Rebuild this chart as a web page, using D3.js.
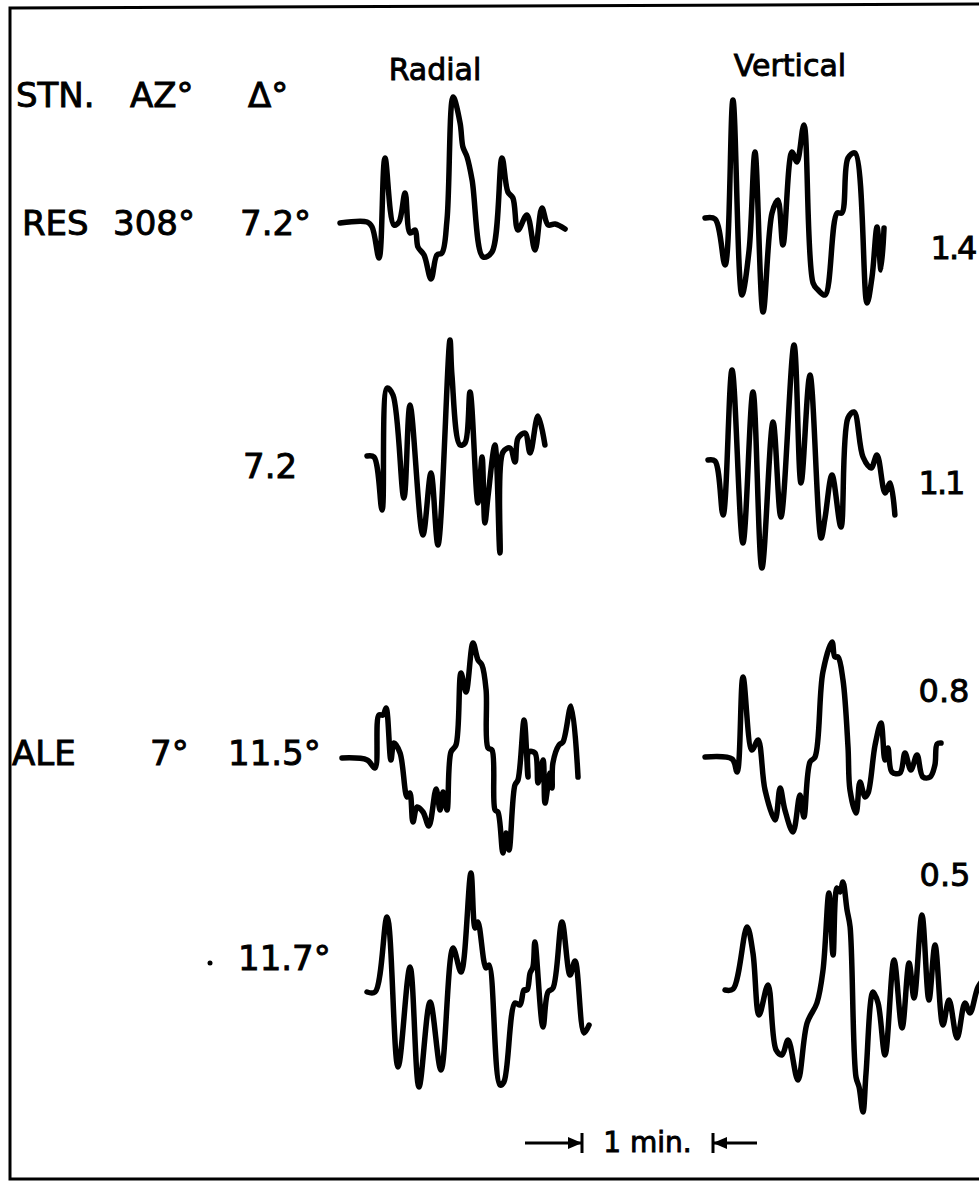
<!DOCTYPE html>
<html>
<head>
<meta charset="utf-8">
<script src="https://cdn.jsdelivr.net/npm/d3@7"></script>
<style>
  body { margin: 0; background: #fff; }
  svg text { font-family: "DejaVu Sans", sans-serif; fill: #000; stroke: #000; stroke-width: 0.9; }
</style>
</head>
<body>
<svg id="viz" width="979" height="1183"></svg>
<script>
// time in seconds from trace start, amplitude in relative units (up = positive)
var resRad1T = [0,12.4,14.7,17.9,20.6,24.7,27.0,29.8,32.1,34.4,35.7,38.5,41.7,44.4,46.7,49.0,51.8,55.0,56.3,58.2,60.5,65.5,69.6,74.2,76.9,79.2,81.5,85.6,89.3,92.5,95.3,98.5,103.1];
var resRad1A = [0,1,-4,-35,65,-2,1,30,-10,-7,-24,-32,-56,-32,-30,3,126,100,76,66,43,-34,-29,65,31,25,-7,8,-27,15,-2,-1,-6];

var resVer1T = [0,4.6,9.2,12.8,16.9,20.2,22.9,26.6,30.7,33.4,35.7,39.8,42.1,45.3,49.5,51.8,55.0,60.5,62.7,65.5,68.7,74.2,76.5,78.8,80.6,82.0];
var resVer1A = [0,-1,-47,118,-77,-32,66,-94,5,18,-27,66,56,93,-65,-72,-77,5,5,60,65,-85,-59,-9,-52,-10];

var resRad2T = [0,3.2,6.9,9.2,11.9,16.9,19.7,25.6,29.3,32.5,38.0,38.9,42.6,44.9,47.2,50.8,52.7,54.0,55.4,58.6,60.9,62.3,65.5,67.8,69.2,72.4,74.7,78.3,81.5];
var resRad2A = [0,-1,-54,68,61,-42,51,-79,-17,-89,116,81,11,13,64,-47,-1,-67,-41,11,-97,4,8,-6,18,23,3,40,11];

var resVer2T = [0,3.2,6.9,11.0,16.0,20.6,24.7,29.8,33.4,39.4,42.6,46.7,51.8,53.6,56.8,60.9,64.1,66.9,71.0,74.7,77.4,81.1,83.4,85.6];
var resVer2A = [0,-1,-55,90,-83,68,-108,38,-57,115,-23,85,-78,-58,-15,-67,42,48,3,-8,5,-33,-23,-55];

var aleRad1T = [0,11.5,15.1,16.9,18.8,20.2,22.4,23.8,26.6,29.8,31.1,32.5,34.4,37.1,39.8,43.1,44.9,46.3,48.1,49.9,52.2,54.5,56.8,60.0,62.3,64.1,66.0,66.9,68.7,70.1,71.4,73.7,75.1,76.5,79.2,80.6,83.4,85.2,85.6,88.4,89.8,92.1,93.0,95.3,96.2,96.6,99.4,101.2,104.9,108.1];
var aleRad1A = [0,-2,-10,43,43,50,-2,15,5,-39,-35,-64,-49,-54,-68,-31,-52,-34,-52,6,13,85,66,115,98,93,68,10,8,-52,-54,-95,-75,-92,-27,-22,38,-19,6,5,-25,-2,-45,-15,-30,-5,13,16,52,-19];

var aleVer1T = [0,12.4,14.7,17.4,21.5,24.3,27.5,32.1,34.4,36.6,40.3,43.5,45.3,48.1,50.4,54.0,58.2,59.5,60.9,63.2,65.5,66.4,69.2,71.0,73.3,74.7,77.9,80.6,82.4,83.8,85.6,89.3,91.6,94.3,97.1,99.8,103.1,105.3,106.3,108.1];
var aleVer1A = [0,-2,-15,80,7,17,-33,-63,-31,-53,-75,-38,-60,-5,0,85,115,100,100,77,10,-33,-56,-25,-40,-36,12,34,-3,9,-15,-16,4,-13,2,-20,-20,-8,13,14];

var aleRad2T = [0,3.7,9.2,14.2,19.7,23.8,28.9,33.9,39.4,43.1,47.6,49.5,50.8,54.5,55.9,60.9,62.7,67.8,70.1,71.9,73.3,74.7,76.0,76.9,80.6,82.9,85.2,89.3,93.0,95.3,99.4,101.7];
var aleRad2A = [0,0,75,-75,25,-95,-10,-78,44,20,119,64,70,24,27,-93,-90,-11,-13,2,2,19,25,50,-35,0,4,70,17,31,-41,-33];

var aleVer2T = [0,3.7,10.1,12.8,15.6,19.7,23.4,26.1,28.9,33.4,37.6,42.1,44.9,47.6,49.5,51.3,52.7,54.0,55.9,57.3,60.0,61.4,63.2,64.6,67.8,70.1,73.3,77.4,81.1,84.3,86.6,90.2,93.4,96.2,99.8,102.6,106.3,109.9,112.2,115.9,119.0];
var aleVer2A = [0,1,63,37,-25,5,-60,-65,-50,-90,-33,-13,20,97,35,102,98,108,80,63,-87,-97,-122,-83,-2,-13,-65,30,-38,27,-8,75,-10,45,-35,-10,-48,-13,-23,3,12];

var ampRatios = ["1.4", "1.1", "0.8", "0.5"];
var distLabels = ["7.2°", "7.2", "11.5°", "11.7°"];

var traces = [
    {t: resRad1T, a: resRad1A, x: 340, y: 223},
    {t: resVer1T, a: resVer1A, x: 705, y: 218},
    {t: resRad2T, a: resRad2A, x: 367, y: 456},
    {t: resVer2T, a: resVer2A, x: 708, y: 460},
    {t: aleRad1T, a: aleRad1A, x: 342, y: 758},
    {t: aleVer1T, a: aleVer1A, x: 705, y: 757},
    {t: aleRad2T, a: aleRad2A, x: 367, y: 992},
    {t: aleVer2T, a: aleVer2A, x: 725, y: 990}
];

var svg = d3.select("#viz");

// 1 min = 131 px on the record
var xScale = d3.scaleLinear().domain([0, 60]).range([0, 131]);
var yScale = d3.scaleLinear().domain([-100, 100]).range([100, -100]);

// frame
svg.append("path")
    .attr("d", "M10,1179 L10,8 L990,4 L990,1179 Z")
    .attr("fill", "none")
    .attr("stroke", "#000")
    .attr("stroke-width", 3);

var line = d3.line()
    .curve(d3.curveCatmullRom.alpha(0.5))
    .x(function(d) { return xScale(d[0]); })
    .y(function(d) { return yScale(d[1]); });

traces.forEach(function(tr) {
    var pts = tr.t.map(function(t, i) { return [t, tr.a[i]]; });
    svg.append("g")
        .attr("transform", "translate(" + tr.x + "," + tr.y + ")")
        .append("path")
        .datum(pts)
        .attr("d", line)
        .attr("fill", "none")
        .attr("stroke", "#000")
        .attr("stroke-width", 5.5)
        .attr("stroke-linejoin", "round")
        .attr("stroke-linecap", "round");
});

function label(txt, x, y, size, anchor) {
    return svg.append("text")
        .attr("x", x)
        .attr("y", y)
        .attr("font-size", size)
        .attr("text-anchor", anchor || "start")
        .text(txt);
}

// headers
label("Radial", 435, 80, 30, "middle");
label("Vertical", 790, 76, 30, "middle");
label("STN.", 16, 107, 34);
label("AZ°", 130, 107, 34);
label("Δ°", 248, 107, 34);

// station rows
label("RES", 22, 235, 34);
label("308°", 113, 235, 34);
label(distLabels[0], 240, 235, 34);
label(distLabels[1], 243, 478, 34);
label("ALE", 12, 765, 34);
label("7°", 150, 765, 34);
label(distLabels[2], 228, 765, 34);
label(distLabels[3], 238, 970, 34);
svg.append("circle").attr("cx", 210).attr("cy", 963).attr("r", 2.5);

// amplitude ratios
label(ampRatios[0], 953, 259, 32, "middle").attr("letter-spacing", -2);
label(ampRatios[1], 941, 494, 32, "middle").attr("letter-spacing", -2);
label(ampRatios[2], 944, 702, 32, "middle");
label(ampRatios[3], 945, 886, 32, "middle");

// time scale bar
var barX = 582, barY = 1143;
var barEnd = barX + xScale(60);
var sb = svg.append("g").attr("stroke", "#000").attr("stroke-width", 3).attr("fill", "#000");
sb.append("line").attr("x1", barX - 57).attr("x2", barX).attr("y1", barY).attr("y2", barY);
sb.append("line").attr("x1", barEnd).attr("x2", barEnd + 44).attr("y1", barY).attr("y2", barY);
sb.append("line").attr("x1", barX).attr("x2", barX).attr("y1", barY - 10).attr("y2", barY + 10);
sb.append("line").attr("x1", barEnd).attr("x2", barEnd).attr("y1", barY - 10).attr("y2", barY + 10);
sb.append("path").attr("stroke", "none")
    .attr("d", "M" + barX + "," + barY + " l-14,-6 l0,12 Z");
sb.append("path").attr("stroke", "none")
    .attr("d", "M" + barEnd + "," + barY + " l14,-6 l0,12 Z");
label("1 min.", (barX + barEnd) / 2, 1152, 28, "middle");
</script>
</body>
</html>
